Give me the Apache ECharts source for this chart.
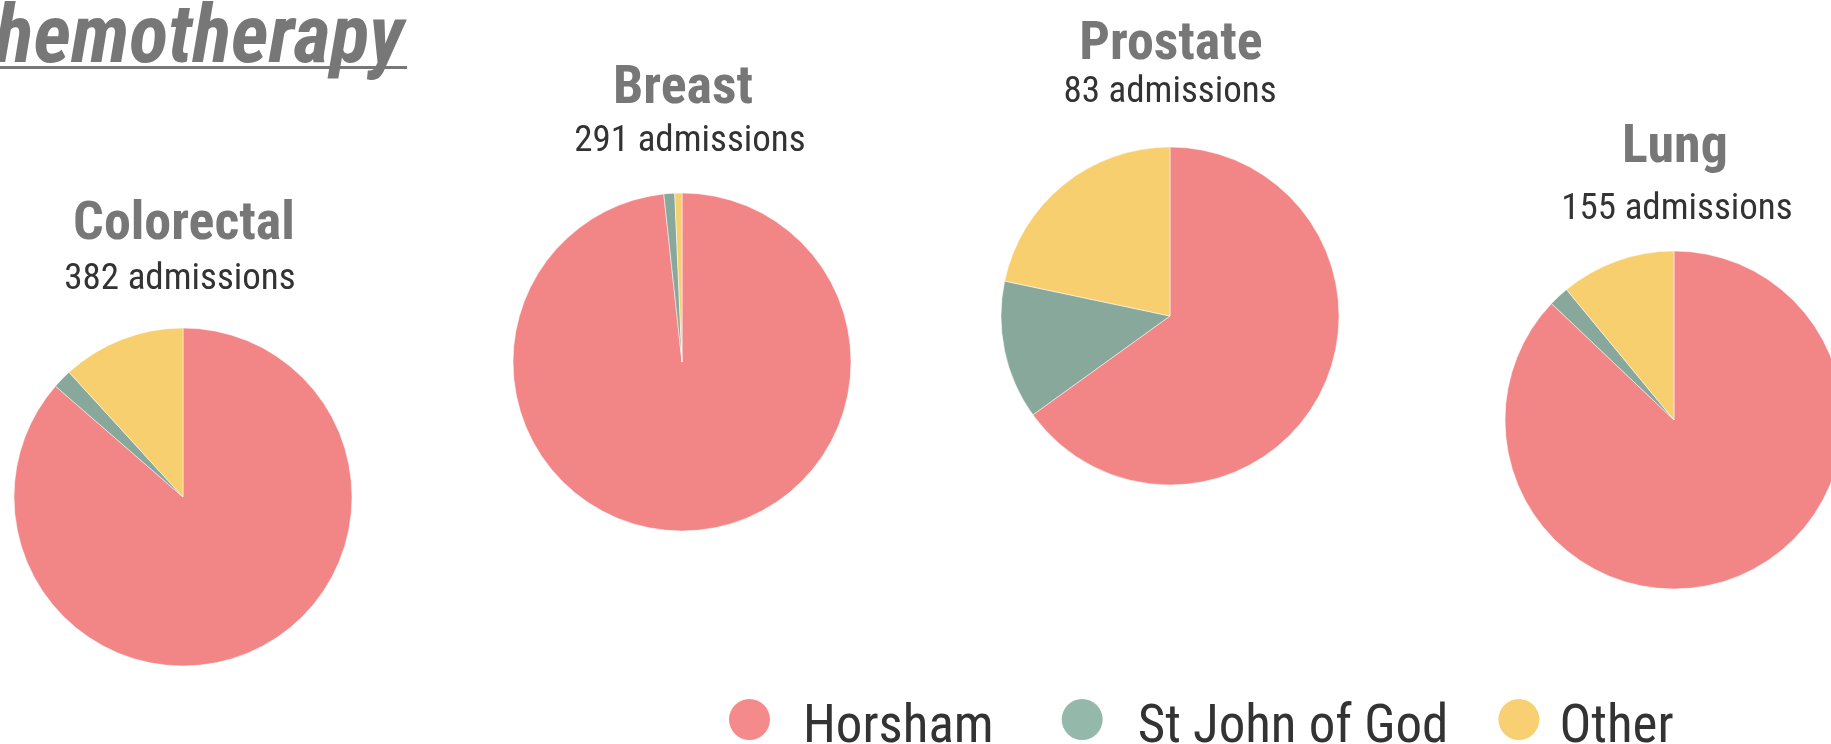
<!DOCTYPE html>
<html>
<head>
<meta charset="utf-8">
<script src="https://cdn.jsdelivr.net/npm/echarts@6/dist/echarts.min.js"></script>
<style>
  html, body { margin: 0; padding: 0; background: #fff; }
  #chart { width: 1831px; height: 744px; }
</style>
</head>
<body>
<div id="chart"></div>
<script>
const cancers = ["Colorectal", "Breast", "Prostate", "Lung"];
const admissions = [382, 291, 83, 155];
const hospitals = ["Horsham", "St John of God", "Other"];
const horsham = [330, 286, 54, 135];
const stJohn = [7, 3, 11, 3];
const other = [45, 2, 18, 17];

const colors = ["#f28686", "#87a89b", "#f8cf6f"];
const legendColors = ["#f58a8a", "#94b8aa", "#f8d072"];
const FONT = "'Roboto Condensed', 'Liberation Sans Narrow', 'DejaVu Sans Condensed', Roboto, sans-serif";

// layout of each small pie
const pieCenters = [[183, 497], [682, 362], [1170, 316], [1674, 420]];
const nameSpots = [[184, 244], [683, 108], [1171, 64], [1675, 167]];
const countSpots = [[180, 293], [690, 155], [1170, 106], [1677, 223]];
const legendPads = [[0, 18, 0, 28], [0, 0, 0, 30], [0, 0, 0, 15]];
const RADIUS = 169;

// circle sitting in the top of a taller box, so the dot rides above the text middle
const DOT = "path://M0,20.5A20.5,20.5,0,1,1,41,20.5A20.5,20.5,0,1,1,0,20.5ZM20.5,59";

const chart = echarts.init(document.getElementById("chart"));

const titles = [];
cancers.forEach((name, i) => {
  titles.push({
    text: name,
    left: nameSpots[i][0],
    top: nameSpots[i][1] - 0.85 * 54,
    textAlign: "center",
    padding: 0,
    textStyle: { fontFamily: FONT, fontSize: 54, fontWeight: "bold", color: "#777777", lineHeight: 54 },
  });
  titles.push({
    text: admissions[i] + " admissions",
    left: countSpots[i][0],
    top: countSpots[i][1] - 0.85 * 37,
    textAlign: "center",
    padding: 0,
    textStyle: { fontFamily: FONT, fontSize: 37, fontWeight: "normal", color: "#333333", lineHeight: 37 },
  });
});

const series = cancers.map((name, i) => ({
  name: name,
  type: "pie",
  center: pieCenters[i],
  radius: RADIUS,
  startAngle: 90,
  clockwise: true,
  label: { show: false },
  labelLine: { show: false },
  emphasis: { disabled: true },
  itemStyle: { borderColor: "#fff", borderWidth: 0.5 },
  data: hospitals.map((h, k) => ({
    name: h,
    value: [horsham, stJohn, other][k][i],
  })),
}));

chart.setOption({
  animation: false,
  color: colors,
  title: titles,
  legend: {
    data: hospitals.map((h, k) => ({
      name: h,
      icon: DOT,
      itemStyle: { color: legendColors[k], borderWidth: 0 },
      textStyle: { padding: legendPads[k] },
    })),
    left: 729,
    top: 699,
    padding: 0,
    itemWidth: 41,
    itemHeight: 59,
    itemGap: 50,
    textStyle: {
      fontFamily: FONT,
      fontSize: 53,
      lineHeight: 53,
      color: "#333333",
    },
  },
  graphic: [
    {
      type: "text",
      x: 404,
      y: 82,
      style: {
        text: "Chemotherapy",
        font: "italic bold 81px " + FONT,
        fill: "#777777",
        align: "right",
        verticalAlign: "bottom",
      },
    },
    {
      type: "rect",
      shape: { x: 0, y: 66, width: 407, height: 3 },
      style: { fill: "#777777" },
    },
  ],
  series: series,
});
</script>
</body>
</html>
